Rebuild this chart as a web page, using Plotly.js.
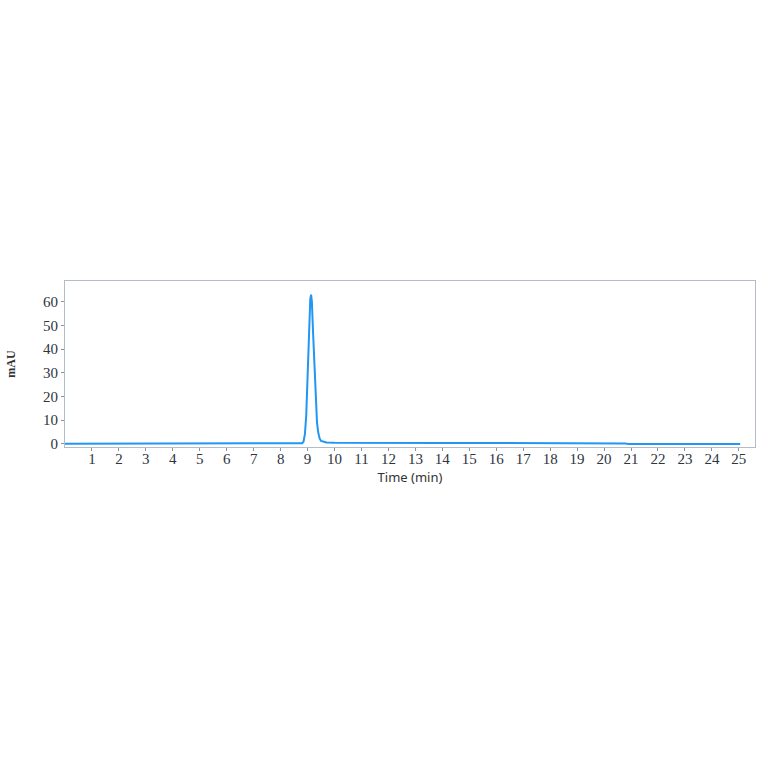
<!DOCTYPE html>
<html>
<head>
<meta charset="utf-8">
<script src="https://cdn.plot.ly/plotly-3.0.1.min.js"></script>
<style>
  html, body { margin: 0; padding: 0; background: #fff; }
  #chart { width: 764px; height: 764px; }
</style>
</head>
<body>
<div id="chart"></div>
<script>
// ---- Chromatogram data ----
const timeMin = [
  0, 2, 4, 5.5, 6.0, 7.0, 8.5, 8.8, 8.85, 8.9, 8.95, 9.0, 9.05, 9.1, 9.13,
  9.16, 9.2, 9.25, 9.3, 9.35, 9.4, 9.45, 9.5, 9.6, 9.7, 10.0, 11.0, 12.0,
  13.9, 13.95, 14.05, 15.0, 16.0, 17.0, 17.7, 17.8, 19.0, 20.8, 20.9, 23.0, 25.05
];
const mAU = [
  0.1, 0.1, 0.1, 0.1, 0.2, 0.2, 0.2, 0.3, 1.0, 4, 12, 28, 48, 61, 63,
  60, 48, 32, 18, 9, 4.5, 2.2, 1.3, 0.8, 0.6, 0.5, 0.4, 0.4,
  0.4, 0.1, 0.4, 0.4, 0.4, 0.4, 0.4, 0.2, 0.2, 0.2, 0.0, 0.0, 0.0
];
const xTicks = [1, 2, 3, 4, 5, 6, 7, 8, 9, 10, 11, 12, 13, 14, 15, 16, 17, 18, 19, 20, 21, 22, 23, 24, 25];
const yTicks = [0, 10, 20, 30, 40, 50, 60];

const trace = {
  x: timeMin,
  y: mAU,
  type: 'scatter',
  mode: 'lines',
  line: { color: '#2196f3', width: 2 },
  hoverinfo: 'x+y'
};

const axisBase = {
  showgrid: false,
  zeroline: false,
  showline: true,
  linecolor: '#b4bcc8',
  linewidth: 1,
  mirror: true,
  ticks: 'outside',
  ticklen: 3,
  tickcolor: '#8a92a0',
  tickfont: { family: 'Liberation Serif, serif', size: 15, color: '#2e3440' }
};

const layout = {
  width: 764,
  height: 764,
  paper_bgcolor: '#ffffff',
  plot_bgcolor: '#ffffff',
  margin: { l: 65, r: 9, t: 281, b: 317 },
  showlegend: false,
  xaxis: Object.assign({}, axisBase, {
    range: [0, 25.6],
    tickvals: xTicks,
    ticktext: xTicks.map(String),
    ticklabelstandoff: -5,
    title: {
      text: 'Time (min)',
      font: { family: 'Noto Sans, sans-serif', size: 13, color: '#333' },
      standoff: 6
    }
  }),
  yaxis: Object.assign({}, axisBase, {
    range: [-1.3, 68.8],
    tickvals: yTicks,
    ticktext: yTicks.map(String),
    title: {
      text: '<b>mAU</b>',
      font: { family: 'Liberation Serif, serif', size: 12, color: '#333' },
      standoff: 24
    }
  })
};

Plotly.newPlot('chart', [trace], layout, { displayModeBar: false, staticPlot: true });
</script>
</body>
</html>
